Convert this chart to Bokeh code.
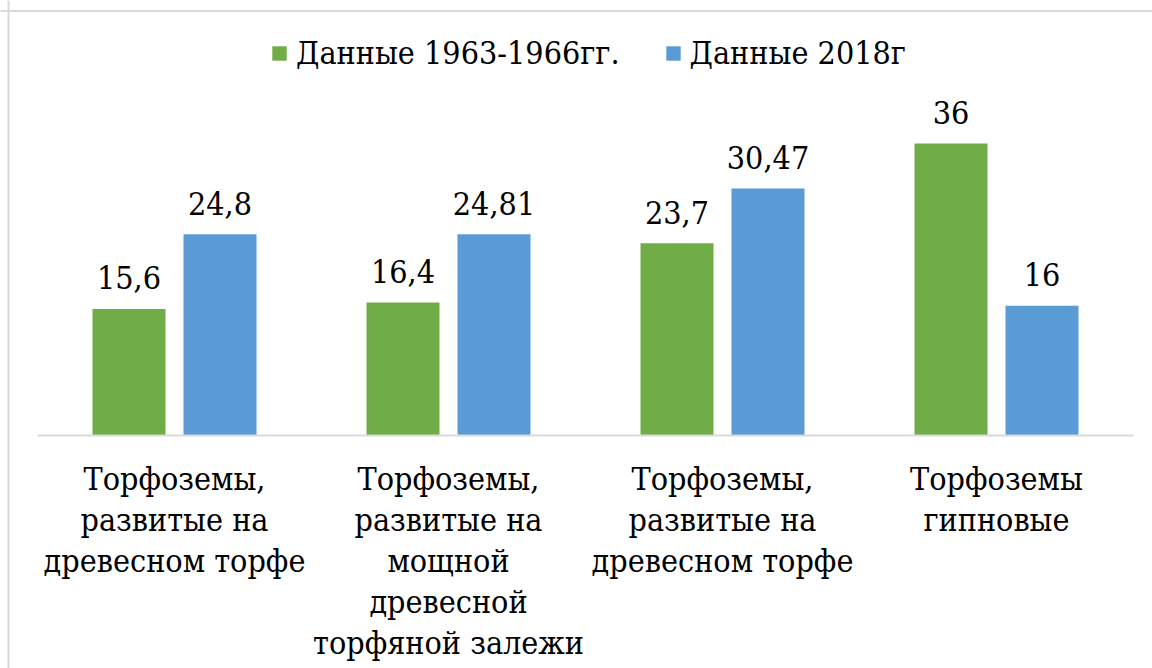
from bokeh.plotting import figure
from bokeh.models import ColumnDataSource, Range1d, Legend, LegendItem, Span
from bokeh.core.properties import value
from bokeh.embed import file_html
from bokeh.resources import INLINE
import numpy as np

categories = [
    "Торфоземы,\nразвитые на\nдревесном торфе",
    "Торфоземы,\nразвитые на\nмощной\nдревесной\nторфяной залежи",
    "Торфоземы,\nразвитые на\nдревесном торфе",
    "Торфоземы\nгипновые",
]
series_names = ["Данные 1963-1966гг.", "Данные 2018г"]
values_1963 = [15.6, 16.4, 23.7, 36]
values_2018 = [24.8, 24.81, 30.47, 16]
colors = ["#70AD47", "#5B9BD5"]

FONT = "DejaVu Serif Condensed"
FS = "32px"
W, H = 1152, 668
PX_X = 274.0   # px per category unit
PX_Y = 8.11    # px per value unit
base_x = 174.0  # canvas x of first category centre
base_y = 435.0  # canvas y of baseline

x_start = -base_x / PX_X
x_end = (W - base_x) / PX_X
y_end = base_y / PX_Y
y_start = -(H - base_y) / PX_Y

p = figure(width=W, height=H, output_backend="svg", toolbar_location=None,
           x_range=Range1d(x_start, x_end), y_range=Range1d(y_start, y_end),
           min_border=0)
p.axis.visible = False
p.grid.visible = False
p.outline_line_color = None
p.background_fill_color = "white"
p.border_fill_color = "white"

n = len(categories)
idx = np.arange(n)
bw = 73 / PX_X
off = 45.5 / PX_X

def fmt(v):
    return f"{v:g}".replace(".", ",")

renderers = []
for vals, dx, col in [(values_1963, -off, colors[0]), (values_2018, off, colors[1])]:
    src = ColumnDataSource(dict(x=idx + dx, top=vals, lab=[fmt(v) for v in vals]))
    r = p.vbar(x="x", top="top", bottom=0, width=bw, source=src,
               fill_color=col, line_color=None)
    renderers.append(r)
    p.text(x="x", y="top", text="lab", source=src, text_font=value(FONT),
           text_font_size=FS, text_align="center", text_baseline="alphabetic",
           y_offset=-31, text_color="black")

# category axis line
p.segment(x0=[-0.5], y0=[0], x1=[n - 0.5], y1=[0], line_color="#d9d9d9", line_width=2)

# category labels
p.text(x=idx, y=[0] * n, text=categories, text_font=value(FONT), text_font_size=FS,
       text_align="center", text_baseline="top", y_offset=24, text_color="black",
       text_line_height=1.08)

# chart border (top & left)
p.add_layout(Span(location=y_end - 10.5 / PX_Y, dimension="width", line_color="#d9d9d9", line_width=2))
p.add_layout(Span(location=x_start + 8 / PX_X, dimension="height", line_color="#d9d9d9", line_width=2))

legend = Legend(items=[LegendItem(label=series_names[0], renderers=[renderers[0]]),
                       LegendItem(label=series_names[1], renderers=[renderers[1]])],
                orientation="horizontal", location=(270, 596),
                glyph_width=18, glyph_height=18, label_standoff=8, spacing=44,
                padding=0, margin=0, border_line_color=None, background_fill_alpha=0,
                label_text_font=FONT, label_text_font_size=FS, label_text_color="black")
p.add_layout(legend, "center")

open("out.html", "w").write(file_html(p, INLINE))
